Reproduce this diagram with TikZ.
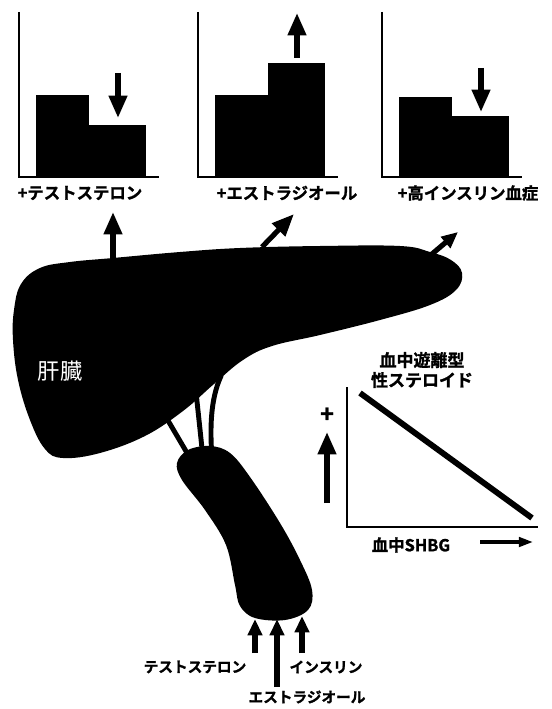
\documentclass[tikz,border=0pt]{standalone}
\usepackage{fontspec}
\usetikzlibrary{arrows.meta}
\newfontfamily\jpbold[FakeBold=1.4]{Noto Sans CJK JP Bold}
\newfontfamily\jpreg{Noto Sans CJK JP}

\begin{document}
\begin{tikzpicture}[
  x=0.03cm,y=-0.03cm,
  lbl/.style={font=\jpbold\fontsize{14}{17}\selectfont,inner sep=0pt},
  sublbl/.style={font=\jpbold\fontsize{12.5}{14}\selectfont,inner sep=0pt},
  axisline/.style={line width=1.5pt},
  fatarrow/.style={line width=4.4pt,-{Triangle[width=15pt,length=19pt]}},
  midarrow/.style={line width=4.4pt,-{Triangle[width=12pt,length=14pt]}},
  thinarrow/.style={line width=2.8pt,-{Triangle[width=8pt,length=12pt]}},
  vessel/.style={line width=4.2pt,line cap=round}
]
\useasboundingbox (0,0) rectangle (551,709);

% three small bar charts: axis x, bar heights, arrow y range, label x
\foreach \ax/\ha/\hb/\ya/\yb/\lx/\txt in {
    19/95/125/73/118/80/{+テストステロン},
    198/95/63/58/13/287/{+エストラジオール},
    382/97/116/68/112/468/{+高インスリン血症}} {
  \fill (\ax+17,177) rectangle (\ax+70,\ha);
  \fill (\ax+70,177) rectangle (\ax+127,\hb);
  \draw[axisline] (\ax,12) -- (\ax,177) -- (\ax+140,177);
  \coordinate (a\ax) at (\ax+99,\ya);
  \coordinate (b\ax) at (\ax+99,\yb);
  \draw[fatarrow] (a\ax) -- (b\ax);
  \node[lbl] (t\ax) at (\lx,193) {\txt};
}

% vessels between liver and duct
\coordinate (v1a) at (163,412);
\coordinate (v1b) at (190,458);
\coordinate (v2a) at (196,392);
\coordinate (v2b) at (203,458);
\coordinate (v3a) at (221,376);
\coordinate (v3b) at (212,458);
\draw[vessel] (v1a) -- (v1b);
\draw[vessel] (v2a) .. controls (199,420) .. (v2b);
\draw[vessel] (v3a) .. controls (210,400) and (210,430) .. (v3b);

% liver
\fill plot[smooth cycle,tension=0.65] coordinates {
  (14,310) (21,284) (40,268) (70,262) (113,258) (180,252) (240,248)
  (320,246) (400,246) (430,252) (451,260) (462,273) (456,290)
  (430,305) (380,320) (320,335) (272,346) (243,360) (214,384)
  (183,411) (145,436) (100,453) (63,458) (45,449) (30,420)
  (18,380) (13,340)};
\node[text=white,font=\jpreg\fontsize{19}{20}\selectfont,inner sep=0pt]
  (liver) at (60,371) {肝臓};

% duct below the liver
\fill plot[smooth cycle,tension=0.6] coordinates {
  (177,463) (188,450) (210,446) (230,453) (250,477) (280,523)
  (300,560) (312,590) (308,610) (285,620) (255,618) (240,606)
  (235,585) (226,545) (205,510) (182,480)};

% arrows leaving the liver
\coordinate (o1) at (113,258);
\coordinate (p1) at (113,212);
\coordinate (o2) at (262,247);
\coordinate (p2) at (294,214);
\coordinate (o3) at (432,254);
\coordinate (p3) at (458,232);
\draw[fatarrow] (o1) -- (p1);
\draw[fatarrow] (o2) -- (p2);
\draw[midarrow] (o3) -- (p3);

% arrows entering the duct
\node[sublbl] (testo) at (195,667) {テストステロン};
\node[sublbl] (estra) at (307,697) {エストラジオール};
\node[sublbl] (insu)  at (326,667) {インスリン};
\coordinate (i1) at (255,653);
\coordinate (i2) at (277,687);
\coordinate (i3) at (302,653);
\draw[midarrow] (i1) -- (255,619);
\draw[midarrow] (i2) -- (277,619);
\draw[midarrow] (i3) -- (302,616);

% free steroid versus SHBG
\node[lbl,align=center,font=\jpbold\fontsize{14.5}{17}\selectfont]
  (free) at (422,370) {血中遊離型\\性ステロイド};
\draw[axisline] (347,387) -- (347,527) -- (538,527);
\draw[line width=5pt] (360,393) -- (532,518);
\node[font=\jpbold\fontsize{20}{20}\selectfont,inner sep=0pt] (plus) at (327,415) {+};
\coordinate (u1) at (327,503);
\coordinate (u2) at (327,432);
\draw[fatarrow] (u1) -- (u2);
\node[lbl] (shbg) at (411,545) {血中SHBG};
\coordinate (r1) at (480,542);
\coordinate (r2) at (533,542);
\draw[thinarrow] (r1) -- (r2);
\end{tikzpicture}
\end{document}
